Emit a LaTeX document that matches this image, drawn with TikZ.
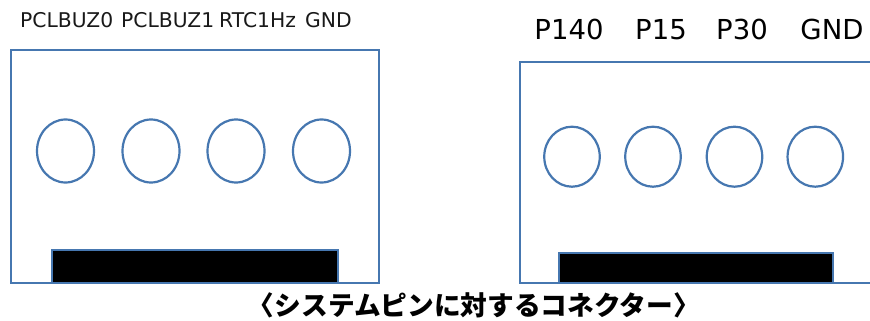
\documentclass[tikz,border=0pt]{standalone}
\usepackage{fontspec}
\setmainfont{DejaVu Sans}
\newfontfamily\jpfont{Noto Sans CJK JP}
\usetikzlibrary{shapes.geometric}
\definecolor{edgeblue}{HTML}{4677B0}
\tikzset{
  board/.style={draw=edgeblue, line width=2.2pt},
  pin/.style={draw=edgeblue, line width=2.2pt, ellipse, inner sep=0pt},
  bar/.style={draw=edgeblue, fill=black, line width=1.6pt, inner sep=0pt},
  smalllabel/.style={inner sep=0pt, anchor=base west, font=\fontsize{20.3}{24}\selectfont, text=black!90},
  biglabel/.style={inner sep=0pt, anchor=base, font=\fontsize{27.5}{30}\selectfont, text=black},
  caption/.style={inner sep=0pt, font=\jpfont\bfseries\fontsize{26.7}{30}\selectfont}
}
\begin{document}
\begin{tikzpicture}[x=1pt, y=-1pt]
\useasboundingbox (0,0) rectangle (870,321);
\fill[white] (0,0) rectangle (870,321);
% left connector
\node[board, rectangle, minimum width=368pt, minimum height=233pt, inner sep=0pt] (lbox) at (195,166.5) {};
\node[bar, minimum width=286pt, minimum height=33pt] (lbar) at (195,266.5) {};
\node[pin, minimum width=57pt, minimum height=63pt] (l1) at (65.5,151) {};
\node[pin, minimum width=57pt, minimum height=63pt] (l2) at (151,151) {};
\node[pin, minimum width=57pt, minimum height=63pt] (l3) at (236,151) {};
\node[pin, minimum width=57pt, minimum height=63pt] (l4) at (321.5,151) {};
\node[smalllabel] (t1) at (20,27.5) {PCLBUZ0};
\node[smalllabel] (t2) at (121,27.5) {PCLBUZ1};
\node[smalllabel] (t3) at (219,27.5) {RTC1Hz};
\node[smalllabel] (t4) at (305,27.5) {GND};
% right connector
\coordinate (rtr) at (875,62);
\coordinate (rbr) at (875,283);
\draw[board] (rtr) -- (520,62) -- (520,283) -- (rbr);
\node[bar, minimum width=274pt, minimum height=30pt] (rbar) at (696,268) {};
\node[pin, minimum width=55.5pt, minimum height=60pt] (r1) at (572,156.7) {};
\node[pin, minimum width=55.5pt, minimum height=60pt] (r2) at (653,156.7) {};
\node[pin, minimum width=55.5pt, minimum height=60pt] (r3) at (734.5,156.7) {};
\node[pin, minimum width=55.5pt, minimum height=60pt] (r4) at (815.3,156.7) {};
\node[biglabel] (s1) at (569,39.5) {P140};
\node[biglabel] (s2) at (661,39.5) {P15};
\node[biglabel] (s3) at (742,39.5) {P30};
\node[biglabel] (s4) at (832,39.5) {GND};
% caption
\node[caption] (cap) at (474,305) {〈システムピンに対するコネクター〉};
\end{tikzpicture}
\end{document}
